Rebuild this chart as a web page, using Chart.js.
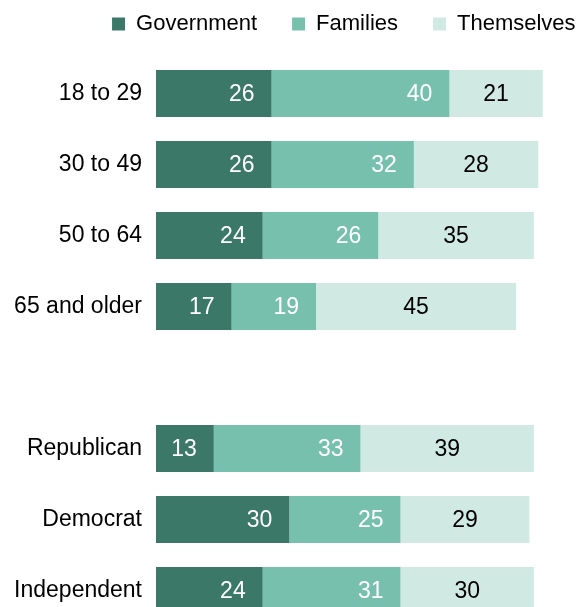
<!DOCTYPE html>
<html>
<head>
<meta charset="utf-8">
<script src="https://cdn.jsdelivr.net/npm/chart.js@4/dist/chart.umd.min.js"></script>
<style>
  html, body { margin: 0; padding: 0; background: #fff; overflow: hidden; }
  #wrap { position: relative; width: 581px; height: 626px; }
</style>
</head>
<body>
<div id="wrap"><canvas id="c"></canvas></div>
<script>
const categories = ['18 to 29', '30 to 49', '50 to 64', '65 and older', '', 'Republican', 'Democrat', 'Independent'];
const seriesNames = ['Government', 'Families', 'Themselves'];
const government = [26, 26, 24, 17, null, 13, 30, 24];
const families   = [40, 32, 26, 19, null, 33, 25, 31];
const themselves = [21, 28, 35, 45, null, 39, 29, 30];

const colors = ['#3b7868', '#77c0ae', '#d1e9e3'];
const labelColors = ['#ffffff', '#ffffff', '#000000'];
const FONT = '"Liberation Sans", Arial, sans-serif';

const valueLabels = {
  id: 'valueLabels',
  afterDatasetsDraw(chart) {
    const ctx = chart.ctx;
    ctx.save();
    ctx.font = '23px ' + FONT;
    ctx.textBaseline = 'middle';
    chart.data.datasets.forEach((ds, i) => {
      const meta = chart.getDatasetMeta(i);
      meta.data.forEach((el, j) => {
        const v = ds.data[j];
        if (v == null) return;
        ctx.fillStyle = labelColors[i];
        if (i < 2) {
          ctx.textAlign = 'right';
          ctx.fillText(String(v), el.x - 17, el.y + 1);
        } else {
          ctx.textAlign = 'center';
          ctx.fillText(String(v), (el.x + el.base) / 2, el.y + 1);
        }
      });
    });
    ctx.restore();
  }
};

const seriesData = [government, families, themselves];

new Chart(document.getElementById('c'), {
  type: 'bar',
  data: {
    labels: categories,
    datasets: seriesNames.map((name, i) => ({
      label: name,
      data: seriesData[i],
      backgroundColor: colors[i],
      borderWidth: 0,
      categoryPercentage: 0.662,
      barPercentage: 1
    }))
  },
  options: {
    indexAxis: 'y',
    responsive: true,
    maintainAspectRatio: false,
    animation: false,
    layout: { padding: { top: -22, right: -29.6, left: 0, bottom: 0 } },
    plugins: {
      legend: {
        position: 'top',
        align: 'end',
        labels: {
          boxWidth: 13,
          boxHeight: 13,
          padding: 35,
          color: '#000',
          font: { size: 22, family: FONT }
        }
      },
      tooltip: { enabled: false }
    },
    scales: {
      x: {
        type: 'linear',
        position: 'top',
        stacked: true,
        min: 0,
        max: 95.6,
        ticks: { display: false },
        grid: { display: false, drawTicks: false },
        border: { display: false },
        afterFit(s) { s.height = 13; s.paddingLeft = 0; s.paddingRight = 0; }
      },
      y: {
        stacked: true,
        grid: { display: false, drawTicks: false },
        border: { display: false },
        ticks: { padding: 14, color: '#000', font: { size: 23, family: FONT } },
        afterFit(s) { s.width = 156; s.paddingTop = 0; s.paddingBottom = 0; }
      }
    }
  },
  plugins: [valueLabels]
});
</script>
</body>
</html>
